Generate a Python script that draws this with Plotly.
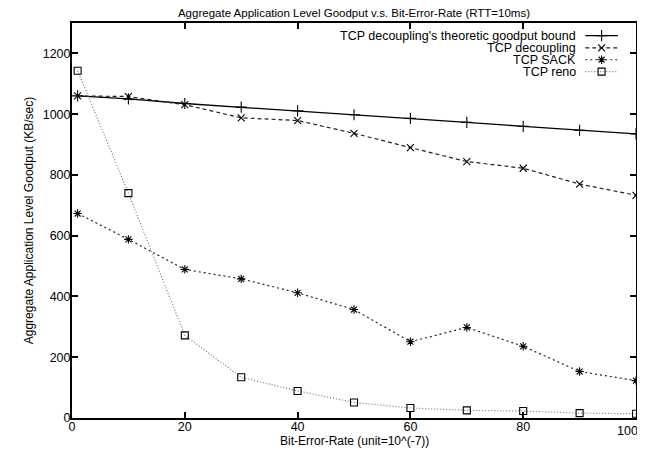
import plotly.graph_objects as go

ber = [1, 10, 20, 30, 40, 50, 60, 70, 80, 90, 100]
bound = [1060, 1050, 1035, 1023, 1011, 998, 986, 973, 960, 947, 935]
decoupling = [1060, 1058, 1031, 988, 979, 937, 890, 844, 822, 770, 733]
sack = [673, 588, 489, 458, 412, 357, 251, 298, 236, 153, 123]
reno = [1143, 740, 272, 134, 89, 51, 33, 25, 23, 16, 14]

x_ticks = [0, 20, 40, 60, 80, 100]
x_tick_text = ["0", "20", "40", "60", "80", ""]   # last label drawn separately so it is not clipped
y_ticks = [0, 200, 400, 600, 800, 1000, 1200]

names = ["TCP decoupling's theoretic goodput bound", "TCP decoupling", "TCP SACK", "TCP reno"]
series = [bound, decoupling, sack, reno]
styles = [
    dict(color="#000000", dash="solid", symbol="cross-thin-open", size=8, lw=1.3),
    dict(color="#222222", dash="4px,3px", symbol="x-thin-open", size=7, lw=1.2),
    dict(color="#222222", dash="2px,3px", symbol="asterisk-open", size=7, lw=1.2),
    dict(color="#777777", dash="1px,2px", symbol="square-open", size=7, lw=1.2),
]

FONT = "Liberation Sans, Arial, sans-serif"
fig = go.Figure()
for name, ys, st in zip(names, series, styles):
    fig.add_trace(go.Scatter(
        x=ber, y=ys, mode="lines+markers", name=name, showlegend=False,
        line=dict(color=st["color"], width=st["lw"], dash=st["dash"]),
        marker=dict(symbol=st["symbol"], size=st["size"], color="#000000",
                    line=dict(color="#000000", width=1.1)),
    ))

# gnuplot-style key: right-aligned text with the line sample to its right
leg_rows = [0.968, 0.937, 0.907, 0.877]
for name, st, yy in zip(names, styles, leg_rows):
    fig.add_trace(go.Scatter(
        x=[0.910, 0.968], y=[yy, yy], xaxis="x2", yaxis="y2", mode="lines",
        line=dict(color=st["color"], width=st["lw"], dash=st["dash"]),
        showlegend=False, hoverinfo="skip"))
    fig.add_trace(go.Scatter(
        x=[0.939], y=[yy], xaxis="x2", yaxis="y2", mode="markers",
        marker=dict(symbol=st["symbol"], size=st["size"], color="#000000",
                    line=dict(color="#000000", width=1.1)),
        showlegend=False, hoverinfo="skip"))
    fig.add_annotation(text=name, xref="paper", yref="paper", x=0.897, y=yy,
                       xanchor="right", yanchor="middle", showarrow=False,
                       font=dict(family=FONT, size=12.5, color="#000000"))

# last x tick label, right-aligned at its tick so it stays inside the page
fig.add_annotation(text=str(x_ticks[-1]), xref="x", yref="paper", x=x_ticks[-1], y=0,
                   xanchor="right", yanchor="middle", xshift=4, yshift=-13,
                   showarrow=False, font=dict(family=FONT, size=12.5, color="#000000"))

# x-axis title placed below the tick labels
fig.add_annotation(text="Bit-Error-Rate (unit=10^(-7))", xref="paper", yref="paper",
                   x=0.5, y=0, xanchor="center", yanchor="middle", yshift=-23,
                   showarrow=False, font=dict(family=FONT, size=12, color="#000000"))

axis_common = dict(showline=True, linecolor="#000000", linewidth=2, mirror="ticks",
                   ticks="inside", ticklen=6, tickwidth=2, tickcolor="#000000",
                   showgrid=False, zeroline=False, automargin=False,
                   ticklabeloverflow="allow",
                   tickfont=dict(family=FONT, size=12.5, color="#000000"))

# the page body adds an 8px offset; size and margins compensate for it
fig.update_layout(
    width=645, height=446,
    margin=dict(l=64, r=17, t=15, b=36),
    paper_bgcolor="white", plot_bgcolor="white",
    title=dict(text="Aggregate Application Level Goodput v.s. Bit-Error-Rate (RTT=10ms)",
               x=0.5, xanchor="center", xref="paper", y=0.997, yanchor="top",
               font=dict(family=FONT, size=11.5, color="#000000")),
    xaxis=dict(range=[0, 100], tickvals=x_ticks, ticktext=x_tick_text,
               ticklabelstandoff=-4, **axis_common),
    yaxis=dict(range=[0, 1300], tickvals=y_ticks,
               ticklabelstandoff=-3,
               title=dict(text="Aggregate Application Level Goodput (KB/sec)", standoff=6,
                          font=dict(family=FONT, size=12, color="#000000")),
               **axis_common),
    xaxis2=dict(overlaying="x", range=[0, 1], visible=False),
    yaxis2=dict(overlaying="y", range=[0, 1], visible=False),
    showlegend=False,
)

fig.write_html("out.html")
